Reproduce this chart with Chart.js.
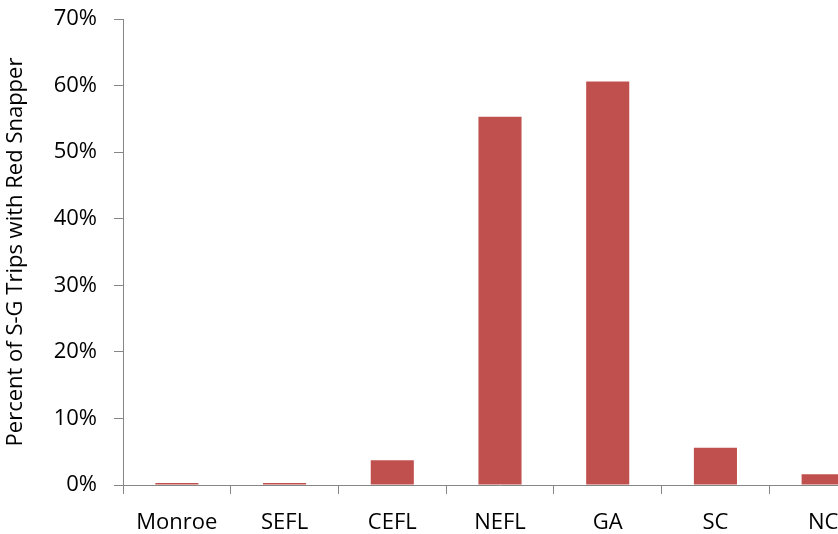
<!DOCTYPE html>
<html lang="en">
<head>
    <meta charset="UTF-8">
    <title>Red Snapper Trips by Region</title>
    <script src="https://cdn.jsdelivr.net/npm/chart.js"></script>
    <style>
        html, body {
            margin: 0;
            padding: 0;
            background: #fff;
            overflow: hidden;
        }
        #chartContainer {
            width: 838px;
            height: 534px;
            overflow: hidden;
        }
        #chartWrap {
            position: relative;
            width: 880px;
            height: 534px;
        }
    </style>
</head>
<body>
    <div id="chartContainer">
        <div id="chartWrap">
            <canvas id="snapperChart"></canvas>
        </div>
    </div>

    <script>
        const regions = ['Monroe', 'SEFL', 'CEFL', 'NEFL', 'GA', 'SC', 'NC'];
        const snapperPct = [0.3, 0.3, 3.7, 55.3, 60.6, 5.6, 1.6];
        const yTicks = [0, 10, 20, 30, 40, 50, 60, 70];

        const axisGrey = '#868686';
        const fontFamily = '"Open Sans", sans-serif';

        const ctx = document.getElementById('snapperChart').getContext('2d');
        new Chart(ctx, {
            type: 'bar',
            data: {
                labels: regions,
                datasets: [{
                    data: snapperPct,
                    backgroundColor: '#C0504D',
                    barPercentage: 0.4,
                    categoryPercentage: 1.0
                }]
            },
            options: {
                responsive: true,
                maintainAspectRatio: false,
                animation: false,
                layout: {
                    padding: { top: 19, right: 3, bottom: 0, left: 0 }
                },
                plugins: {
                    legend: { display: false },
                    tooltip: { enabled: false }
                },
                scales: {
                    x: {
                        grid: {
                            display: true,
                            offset: true,
                            drawOnChartArea: false,
                            drawTicks: true,
                            tickLength: 9,
                            color: axisGrey
                        },
                        border: { color: axisGrey, width: 1 },
                        ticks: {
                            color: '#000',
                            padding: 16,
                            maxRotation: 0,
                            font: { family: fontFamily, size: 22 }
                        },
                        afterFit: function(scale) { scale.height = 49; }
                    },
                    y: {
                        min: 0,
                        max: 70,
                        afterBuildTicks: function(scale) {
                            scale.ticks = yTicks.map(v => ({ value: v }));
                        },
                        grid: {
                            display: true,
                            drawOnChartArea: false,
                            drawTicks: true,
                            tickLength: 9,
                            color: axisGrey
                        },
                        border: { color: axisGrey, width: 1 },
                        ticks: {
                            color: '#000',
                            padding: 17,
                            font: { family: fontFamily, size: 22 },
                            callback: v => v + '%'
                        },
                        title: {
                            display: true,
                            text: 'Percent of S-G Trips with Red Snapper',
                            color: '#000',
                            padding: { top: 3, bottom: 0 },
                            font: { family: fontFamily, size: 22 }
                        },
                        afterFit: function(scale) {
                            scale.width = 123;
                            // let the top label sit in the layout padding
                            scale.paddingTop = 0;
                            scale.paddingBottom = 0;
                        }
                    }
                }
            }
        });
    </script>
</body>
</html>
